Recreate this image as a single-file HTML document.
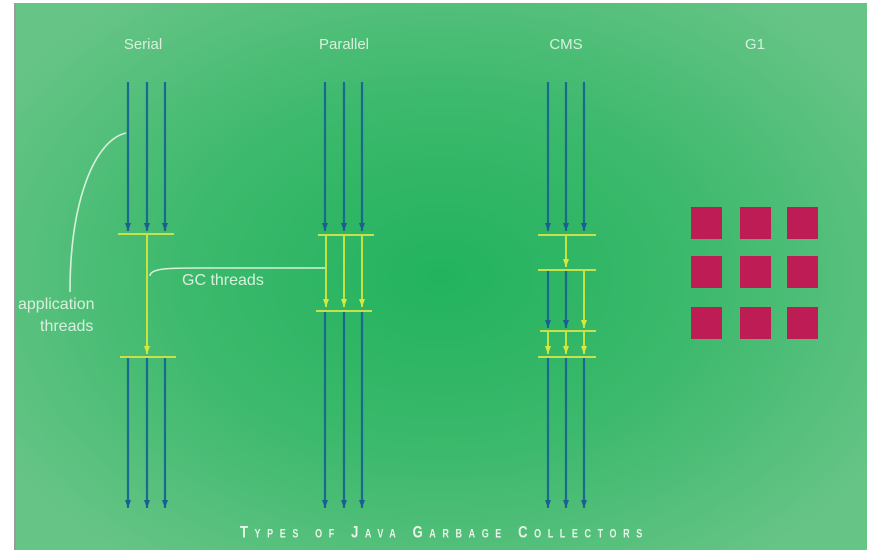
<!DOCTYPE html>
<html><head><style>
body{margin:0;width:873px;height:558px;background:#fff;overflow:hidden;position:relative;font-family:"Liberation Sans",sans-serif}
#p{position:absolute;left:14px;top:3px;width:851px;height:547px;background:radial-gradient(ellipse 60% 65% at 50% 50%,#22b35e 0%,#3cb96c 50%,#66c486 100%);border-left:2px solid #9a9a9a}
svg{position:absolute;left:0;top:0}
.h{position:absolute;color:#d8f0dc;font-size:15px;transform:translateX(-50%);top:36px}
.l{position:absolute;color:#d8f0dc;font-size:16px}
#t{position:absolute;left:240px;top:524px;color:#e8f5e8;font-size:13px;letter-spacing:6.6px;font-weight:bold;font-variant:small-caps;transform:scaleY(1.3);white-space:nowrap}
</style></head><body>
<div id="p"></div>
<svg width="873" height="558">
<defs>
<marker id="b" markerWidth="8" markerHeight="6" refX="8" refY="3" orient="auto" markerUnits="userSpaceOnUse"><path d="M0,0 L8,3 L0,6 Z" fill="#1a5f8f"/></marker>
<marker id="y" markerWidth="8" markerHeight="6" refX="8" refY="3" orient="auto" markerUnits="userSpaceOnUse"><path d="M0,0 L8,3 L0,6 Z" fill="#d8e83a"/></marker>
</defs>
<g stroke="#1a6a90" stroke-width="2.2" marker-end="url(#b)">
<line x1="128" y1="82" x2="128" y2="231"/><line x1="147" y1="82" x2="147" y2="231"/><line x1="165" y1="82" x2="165" y2="231"/>
<line x1="128" y1="358" x2="128" y2="508"/><line x1="147" y1="358" x2="147" y2="508"/><line x1="165" y1="358" x2="165" y2="508"/>
<line x1="325" y1="82" x2="325" y2="231"/><line x1="344" y1="82" x2="344" y2="231"/><line x1="362" y1="82" x2="362" y2="231"/>
<line x1="325" y1="312" x2="325" y2="508"/><line x1="344" y1="312" x2="344" y2="508"/><line x1="362" y1="312" x2="362" y2="508"/>
<line x1="548" y1="82" x2="548" y2="231"/><line x1="566" y1="82" x2="566" y2="231"/><line x1="584" y1="82" x2="584" y2="231"/>
<line x1="548" y1="271" x2="548" y2="328"/><line x1="566" y1="271" x2="566" y2="328"/>
<line x1="548" y1="358" x2="548" y2="508"/><line x1="566" y1="358" x2="566" y2="508"/><line x1="584" y1="358" x2="584" y2="508"/>
</g>
<g stroke="#c8e04a" stroke-width="2">
<line x1="118" y1="234" x2="174" y2="234"/><line x1="120" y1="357" x2="176" y2="357"/>
<line x1="318" y1="235" x2="374" y2="235"/><line x1="316" y1="311" x2="372" y2="311"/>
<line x1="538" y1="235" x2="596" y2="235"/><line x1="538" y1="270" x2="596" y2="270"/><line x1="540" y1="331" x2="596" y2="331"/><line x1="538" y1="357" x2="596" y2="357"/>
</g>
<g stroke="#d8e83a" stroke-width="1.8" marker-end="url(#y)">
<line x1="147" y1="235" x2="147" y2="354"/>
<line x1="326" y1="236" x2="326" y2="307"/><line x1="344" y1="236" x2="344" y2="307"/><line x1="362" y1="236" x2="362" y2="307"/>
<line x1="566" y1="236" x2="566" y2="267"/><line x1="584" y1="271" x2="584" y2="328"/>
<line x1="548" y1="332" x2="548" y2="354"/><line x1="566" y1="332" x2="566" y2="354"/><line x1="584" y1="332" x2="584" y2="354"/>
</g>
<g fill="none" stroke="#d8f0dc" stroke-width="1.6">
<path d="M126,133 C95,140 70,200 70,292"/>
<path d="M150,276 C150,268 170,268 200,268 L325,268"/>
</g>
<g fill="#be1c55">
<rect x="691" y="207" width="31" height="32"/><rect x="740" y="207" width="31" height="32"/><rect x="787" y="207" width="31" height="32"/>
<rect x="691" y="256" width="31" height="32"/><rect x="740" y="256" width="31" height="32"/><rect x="787" y="256" width="31" height="32"/>
<rect x="691" y="307" width="31" height="32"/><rect x="740" y="307" width="31" height="32"/><rect x="787" y="307" width="31" height="32"/>
</g>
</svg>
<div class="h" style="left:143px">Serial</div>
<div class="h" style="left:344px">Parallel</div>
<div class="h" style="left:566px">CMS</div>
<div class="h" style="left:755px">G1</div>
<div class="l" style="left:182px;top:272px">GC threads</div>
<div class="l" style="left:18px;top:296px">application</div>
<div class="l" style="left:40px;top:318px">threads</div>
<div id="t">Types of Java Garbage Collectors</div>
</body></html>
